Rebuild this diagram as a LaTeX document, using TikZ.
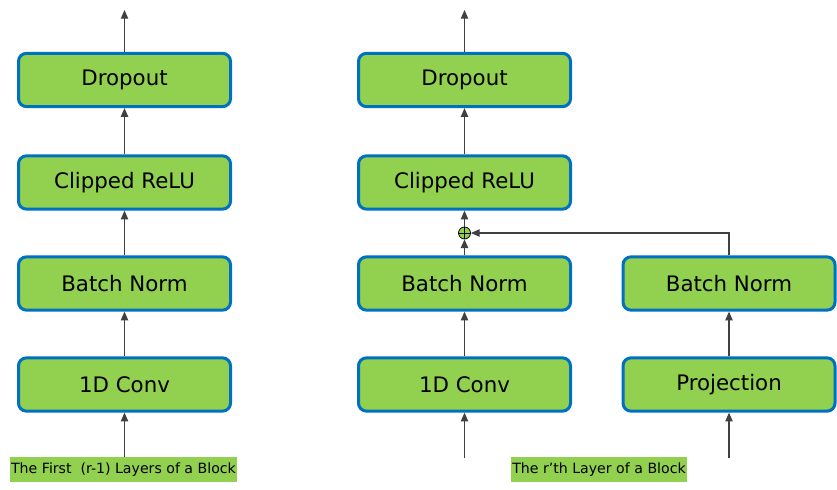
\documentclass[tikz,border=0pt]{standalone}
\usepackage{fontspec}
\setmainfont{DejaVu Sans}
\usepackage{xcolor}
\usetikzlibrary{arrows.meta, positioning, calc}
\definecolor{lgreen}{HTML}{92D050}
\definecolor{eblue}{HTML}{0070C0}
\definecolor{agray}{HTML}{404040}
\tikzset{
  lbox/.style  = {rectangle, draw=eblue, fill=lgreen, line width=2.25pt,
                  rounded corners=6pt, align=center, font=\fontsize{16}{18}\selectfont,
                  minimum width=159pt, minimum height=40pt, inner sep=2pt},
  tag/.style   = {rectangle, fill=lgreen, font=\fontsize{10.6}{12}\selectfont,
                  inner sep=1pt, minimum height=18.5pt},
  addop/.style = {circle, draw=black, fill=lgreen, line width=0.6pt,
                  minimum size=9pt, inner sep=0pt,
                  path picture={\draw[line width=0.6pt]
                    (path picture bounding box.north) -- (path picture bounding box.south)
                    (path picture bounding box.west) -- (path picture bounding box.east);}},
  arr/.style   = {-{Triangle[length=6.5pt, width=5.5pt]}, draw=agray, line width=0.8pt},
}

\begin{document}
\begin{tikzpicture}[x=0.75pt, y=0.75pt]
  \useasboundingbox (0,0) rectangle (837,489);
  % first (r-1) layers
  \node[lbox] (conv1) at (124.5,104.5) {1D Conv};
  \node[lbox] (bn1)   at (124.5,205.5) {Batch Norm};
  \node[lbox] (relu1) at (124.5,306.5) {Clipped ReLU};
  \node[lbox] (drop1) at (124.5,409)   {Dropout};
  \node[tag]  (tag1)  at (123.5,19.5)  {The First \ (r-1) Layers of a Block};
  \coordinate (out1) at (124.5,479);
  \draw[arr] (conv1 |- tag1.north) -- (conv1);
  \draw[arr] (conv1) -- (bn1);
  \draw[arr] (bn1) -- (relu1);
  \draw[arr] (relu1) -- (drop1);
  \draw[arr] (drop1) -- (out1);

  % r'th layer
  \node[lbox] (conv2) at (464.5,104.5) {1D Conv};
  \node[lbox] (bn2)   at (464.5,205.5) {Batch Norm};
  \node[addop] (add)  at (464.5,256)   {};
  \node[lbox] (relu2) at (464.5,306.5) {Clipped ReLU};
  \node[lbox] (drop2) at (464.5,409)   {Dropout};
  \node[lbox] (proj)  at (729,104.5)   {Projection};
  \node[lbox] (bn3)   at (729,205.5)   {Batch Norm};
  \node[tag]  (tag2)  at (599,19.5)    {The r’th Layer of a Block};
  \coordinate (in2)  at (464.5,31);
  \coordinate (in3)  at (729,31);
  \coordinate (out2) at (464.5,479);
  \draw[arr] (in2) -- (conv2);
  \draw[arr] (conv2) -- (bn2);
  \draw[arr] (bn2) -- (add);
  \draw[arr] (add) -- (relu2);
  \draw[arr] (relu2) -- (drop2);
  \draw[arr] (drop2) -- (out2);
  \draw[arr] (in3) -- (proj);
  \draw[arr] (proj) -- (bn3);
  \draw[arr] (bn3) |- (add);
\end{tikzpicture}
\end{document}
